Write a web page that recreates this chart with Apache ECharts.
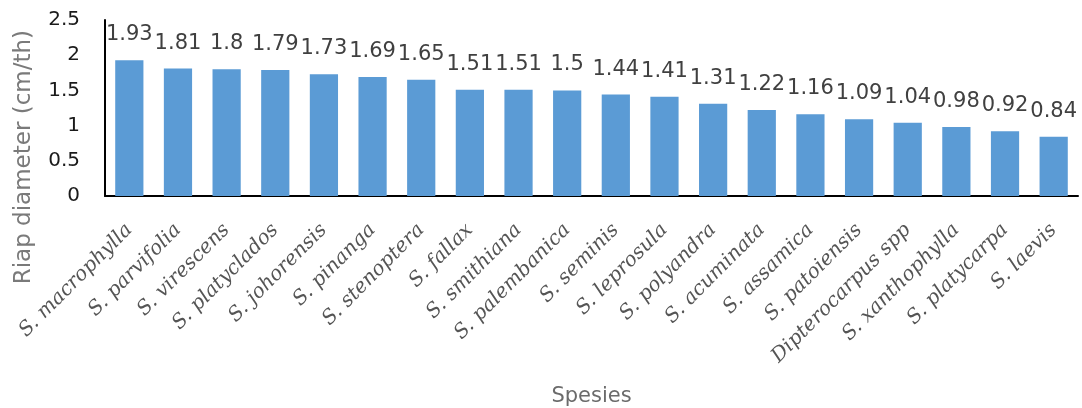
<!DOCTYPE html>
<html>
<head>
<meta charset="utf-8">
<script src="https://cdn.jsdelivr.net/npm/echarts@6/dist/echarts.min.js"></script>
<style>
  html, body { margin: 0; padding: 0; background: #fff; }
  #chart { width: 1082px; height: 408px; }
</style>
</head>
<body>
<div id="chart"></div>
<script>
// Species on the category axis
const species = [
  'S. macrophylla', 'S. parvifolia', 'S. virescens', 'S. platyclados',
  'S. johorensis', 'S. pinanga', 'S. stenoptera', 'S. fallax',
  'S. smithiana', 'S. palembanica', 'S. seminis', 'S. leprosula',
  'S. polyandra', 'S. acuminata', 'S. assamica', 'S. patoiensis',
  'Dipterocarpus spp', 'S. xanthophylla', 'S. platycarpa', 'S. laevis'
];

// Mean diameter increment (cm/th) per species
const riapDiameter = [
  1.93, 1.81, 1.8, 1.79, 1.73, 1.69, 1.65, 1.51, 1.51, 1.5,
  1.44, 1.41, 1.31, 1.22, 1.16, 1.09, 1.04, 0.98, 0.92, 0.84
];

// Value axis range and step
const yMin = 0;
const yMax = 2.5;
const yStep = 0.5;

const yTitle = 'Riap diameter (cm/th)';
const xTitle = 'Spesies';

const chart = echarts.init(document.getElementById('chart'), null, { renderer: 'canvas' });

chart.setOption({
  animation: false,
  backgroundColor: '#ffffff',
  grid: { left: 105, right: 4, top: 20, bottom: 211, containLabel: false },
  xAxis: {
    type: 'category',
    data: species,
    name: xTitle,
    nameLocation: 'middle',
    nameGap: 190,
    nameTextStyle: { fontFamily: 'DejaVu Sans', fontSize: 21, color: '#6b6b6b' },
    axisLine: { show: true, lineStyle: { color: '#000', width: 2 } },
    axisTick: { show: false },
    axisLabel: {
      interval: 0,
      rotate: 45,
      margin: 31,
      fontFamily: 'DejaVu Serif',
      fontStyle: 'italic',
      fontSize: 20,
      color: '#555555'
    }
  },
  yAxis: {
    type: 'value',
    min: yMin,
    max: yMax,
    interval: yStep,
    axisLine: { show: true, lineStyle: { color: '#000', width: 2 } },
    axisTick: { show: false },
    splitLine: { show: false },
    axisLabel: {
      margin: 25,
      fontFamily: 'DejaVu Sans',
      fontSize: 20,
      color: '#1a1a1a'
    }
  },
  graphic: [{
    type: 'text',
    left: 13,
    top: 30,
    rotation: Math.PI / 2,
    style: {
      text: yTitle,
      fontFamily: 'DejaVu Sans',
      fontSize: 23,
      fill: '#7a7a7a'
    }
  }],
  series: [{
    type: 'bar',
    data: riapDiameter,
    barCategoryGap: '42%',
    itemStyle: { color: '#5B9BD5' },
    label: {
      show: true,
      position: 'top',
      distance: 15,
      fontFamily: 'DejaVu Sans',
      fontSize: 21,
      color: '#404040'
    }
  }]
});
</script>
</body>
</html>
